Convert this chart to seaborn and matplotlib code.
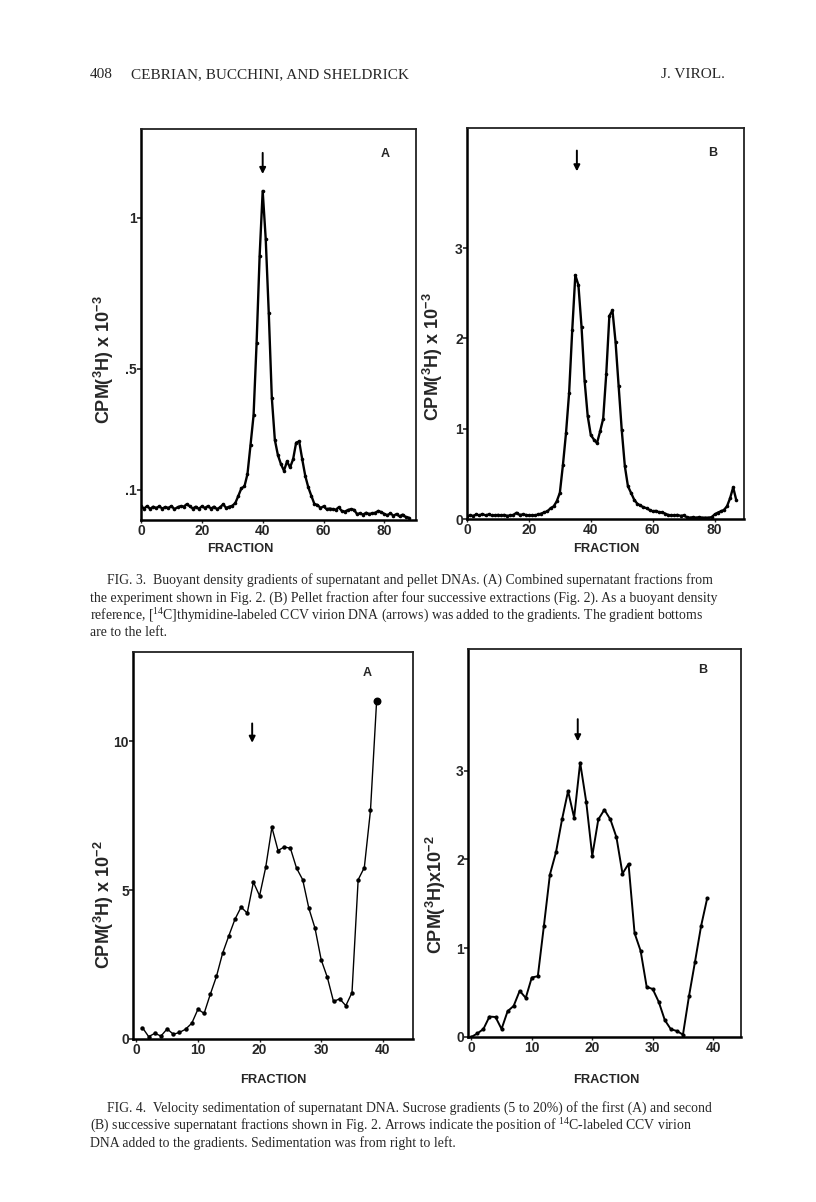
import numpy as np
import pandas as pd
import matplotlib
matplotlib.use("Agg")
import matplotlib.pyplot as plt
import seaborn as sns

# ---------------- data ----------------
fig3a_fraction = list(range(0, 89))
fig3a_cpm = [0.045, 0.038, 0.046, 0.037, 0.044, 0.040, 0.045, 0.038, 0.043, 0.040,
             0.046, 0.036, 0.042, 0.046, 0.044, 0.052, 0.046, 0.038, 0.044, 0.037,
             0.045, 0.040, 0.046, 0.038, 0.044, 0.036, 0.042, 0.052, 0.040, 0.044,
             0.047, 0.056, 0.080, 0.105, 0.111, 0.152, 0.248, 0.346, 0.586, 0.875,
             1.089, 0.930, 0.685, 0.405, 0.265, 0.215, 0.185, 0.163, 0.194, 0.174,
             0.201, 0.256, 0.260, 0.201, 0.146, 0.108, 0.080, 0.053, 0.050, 0.040,
             0.045, 0.036, 0.038, 0.036, 0.034, 0.042, 0.030, 0.028, 0.033, 0.036,
             0.034, 0.020, 0.022, 0.018, 0.024, 0.020, 0.022, 0.024, 0.030, 0.026,
             0.020, 0.016, 0.022, 0.014, 0.020, 0.012, 0.018, 0.010, 0.008]

fig3b_fraction = list(range(0, 88))
fig3b_cpm = [0.03, 0.04, 0.035, 0.05, 0.04, 0.055, 0.04, 0.05, 0.04, 0.04,
             0.045, 0.04, 0.045, 0.035, 0.04, 0.045, 0.07, 0.045, 0.05, 0.045,
             0.04, 0.04, 0.04, 0.05, 0.06, 0.074, 0.085, 0.12, 0.14, 0.196,
             0.29, 0.60, 0.955, 1.40, 2.09, 2.70, 2.59, 2.13, 1.53, 1.14,
             0.93, 0.88, 0.84, 0.97, 1.11, 1.61, 2.25, 2.31, 1.96, 1.47,
             0.985, 0.585, 0.363, 0.29, 0.215, 0.17, 0.15, 0.13, 0.12, 0.10,
             0.085, 0.09, 0.075, 0.075, 0.06, 0.045, 0.04, 0.04, 0.045, 0.035,
             0.04, 0.02, 0.015, 0.02, 0.015, 0.02, 0.015, 0.015, 0.015, 0.02,
             0.05, 0.07, 0.085, 0.10, 0.14, 0.23, 0.35, 0.21]

fig4a_fraction = list(range(1, 40))
fig4a_cpm = [0.38, 0.08, 0.19, 0.10, 0.34, 0.16, 0.22, 0.33, 0.53, 1.00,
             0.86, 1.50, 2.10, 2.88, 3.46, 4.02, 4.43, 4.23, 5.27, 4.81,
             5.77, 7.11, 6.33, 6.45, 6.41, 5.74, 5.35, 4.39, 3.72, 2.66,
             2.07, 1.26, 1.35, 1.12, 1.56, 5.35, 5.76, 7.68, 11.37]

fig4b_fraction = list(range(0, 40))
fig4b_cpm = [0.00, 0.04, 0.09, 0.23, 0.225, 0.09, 0.29, 0.35, 0.52, 0.44,
             0.67, 0.685, 1.25, 1.83, 2.08, 2.45, 2.77, 2.47, 3.09, 2.65,
             2.04, 2.45, 2.56, 2.45, 2.25, 1.84, 1.95, 1.17, 0.97, 0.565,
             0.54, 0.395, 0.19, 0.087, 0.068, 0.026, 0.46, 0.85, 1.25, 1.56]

fig3_xticks = [0, 20, 40, 60, 80]
fig3a_yticks = [0.1, 0.5, 1.0]
fig3a_yticklabels = [".1", ".5", "1"]
fig3b_yticks = [0, 1, 2, 3]
fig3b_yticklabels = ["0", "1", "2", "3"]
fig4_xticks = [0, 10, 20, 30, 40]
fig4a_yticks = [0, 5, 10]
fig4a_yticklabels = ["0", "5", "10"]
fig4b_yticks = [0, 1, 2, 3]
fig4b_yticklabels = ["0", "1", "2", "3"]

arrow_3a = 40.0
arrow_3b = 35.5
arrow_4a = 18.8
arrow_4b = 17.6

# ---------------- styling ----------------
sns.set_style("white")
plt.rcParams["font.family"] = ["Liberation Sans", "DejaVu Sans"]
plt.rcParams["mathtext.default"] = "regular"

W, H = 816, 1202
fig = plt.figure(figsize=(W / 100, H / 100), dpi=100)
fig.patch.set_facecolor("white")


def add_ax(l, r, t, b):
    return fig.add_axes([l / W, 1 - b / H, (r - l) / W, (b - t) / H])


def draw(ax, x, y, lw, ms, xlim, ylim, xticks, yticks, yticklabels,
         arrow_x, arrow_y, letter, letter_xy, last_big=False):
    df = pd.DataFrame({"fraction": x, "cpm": y})
    sns.lineplot(data=df, x="fraction", y="cpm", ax=ax, color="black",
                 linewidth=lw, marker="o", markersize=ms, markeredgewidth=0,
                 estimator=None, sort=False)
    if last_big:
        ax.plot([x[-1]], [y[-1]], "o", color="black", markersize=ms + 1.5)
    ax.set_xlim(*xlim)
    ax.set_ylim(*ylim)
    ax.set_xticks(xticks)
    ax.set_xticklabels([str(t) for t in xticks], fontsize=10, fontweight="bold")
    ax.set_yticks(yticks)
    ax.set_yticklabels(yticklabels, fontsize=10, fontweight="bold")
    ax.tick_params(axis="y", direction="out", length=3, width=1.2, pad=0,
                   left=True)
    ax.tick_params(axis="x", direction="out", length=2, width=1.0, pad=1,
                   bottom=True)
    ax.set_xlabel("")
    ax.set_ylabel("")
    for side in ["left", "bottom"]:
        ax.spines[side].set_linewidth(1.8)
        ax.spines[side].set_color("black")
    for side in ["top", "right"]:
        ax.spines[side].set_linewidth(1.3)
        ax.spines[side].set_color("#222222")
    ax.annotate("", xy=(arrow_x, arrow_y[1]), xytext=(arrow_x, arrow_y[0]),
                arrowprops=dict(arrowstyle="-|>", color="black", lw=1.4,
                                mutation_scale=9, shrinkA=0, shrinkB=0))
    ax.text(letter_xy[0], letter_xy[1], letter, transform=ax.transAxes,
            fontsize=9, fontweight="bold", ha="center", va="center")


# Fig. 3A
ax1 = add_ax(141, 416, 129, 520)
draw(ax1, fig3a_fraction, fig3a_cpm, 1.7, 2.6, (0, 90.4), (0, 1.294),
     fig3_xticks, fig3a_yticks, fig3a_yticklabels, arrow_3a, (1.215, 1.145),
     "A", (0.887, 0.935))

# Fig. 3B
ax2 = add_ax(467, 744, 128, 519)
draw(ax2, fig3b_fraction, fig3b_cpm, 1.7, 2.6, (0, 89.5), (0, 4.33),
     fig3_xticks, fig3b_yticks, fig3b_yticklabels, arrow_3b, (4.08, 3.85),
     "B", (0.886, 0.935))

# Fig. 4A
ax3 = add_ax(133, 413, 652, 1039)
draw(ax3, fig4a_fraction, fig4a_cpm, 1.0, 3.2, (-0.54, 44.9), (0, 13.0),
     fig4_xticks, fig4a_yticks, fig4a_yticklabels, arrow_4a, (10.6, 9.95),
     "A", (0.835, 0.945), last_big=True)

# Fig. 4B
ax4 = add_ax(468, 741, 649, 1037)
draw(ax4, fig4b_fraction, fig4b_cpm, 1.4, 3.0, (-0.55, 44.6), (0, 4.37),
     fig4_xticks, fig4b_yticks, fig4b_yticklabels, arrow_4b, (3.58, 3.33),
     "B", (0.86, 0.945))

# axis titles
ylab_kw = dict(rotation=90, ha="center", va="center", fontsize=13,
               fontweight="bold")
fig.text(104 / W, 1 - 360 / H, r"CPM($^{3}$H) x 10$^{-3}$", **ylab_kw)
fig.text(433 / W, 1 - 357 / H, r"CPM($^{3}$H) x 10$^{-3}$", **ylab_kw)
fig.text(104 / W, 1 - 905 / H, r"CPM($^{3}$H) x 10$^{-2}$", **ylab_kw)
fig.text(436 / W, 1 - 895 / H, r"CPM($^{3}$H)x10$^{-2}$", **ylab_kw)

xlab_kw = dict(ha="center", va="center", fontsize=9.3, fontweight="bold")
fig.text(240 / W, 1 - 549 / H, "FRACTION", **xlab_kw)
fig.text(606 / W, 1 - 549 / H, "FRACTION", **xlab_kw)
fig.text(273 / W, 1 - 1080 / H, "FRACTION", **xlab_kw)
fig.text(606 / W, 1 - 1080 / H, "FRACTION", **xlab_kw)

# page header
serif = ["Liberation Serif", "DejaVu Serif"]
fig.text(90 / W, 1 - 75 / H, "408", family=serif, fontsize=11,
         ha="left", va="center")
fig.text(131 / W, 1 - 75 / H, "CEBRIAN, BUCCHINI, AND SHELDRICK",
         family=serif, fontsize=11, ha="left", va="center")
fig.text(725 / W, 1 - 75 / H, "J. VIROL.", family=serif, fontsize=11,
         ha="right", va="center")

# captions
cap_kw = dict(family=serif, fontsize=9.95, ha="left", va="center")
fig3_caption = [
    (107, 580, "FIG. 3.  Buoyant density gradients of supernatant and pellet DNAs. (A) Combined supernatant fractions from"),
    (90, 598, "the experiment shown in Fig. 2. (B) Pellet fraction after four successive extractions (Fig. 2). As a buoyant density"),
    (90, 616, r"reference, [$^{14}$C]thymidine-labeled CCV virion DNA (arrows) was added to the gradients. The gradient bottoms"),
    (90, 633, "are to the left."),
]
fig4_caption = [
    (107, 1108, "FIG. 4.  Velocity sedimentation of supernatant DNA. Sucrose gradients (5 to 20%) of the first (A) and second"),
    (90, 1126, r"(B) successive supernatant fractions shown in Fig. 2. Arrows indicate the position of $^{14}$C-labeled CCV virion"),
    (90, 1143, "DNA added to the gradients. Sedimentation was from right to left."),
]
for x, y, s in fig3_caption + fig4_caption:
    fig.text(x / W, 1 - y / H, s, **cap_kw)

fig.savefig("out.png", dpi=100, facecolor="white")
